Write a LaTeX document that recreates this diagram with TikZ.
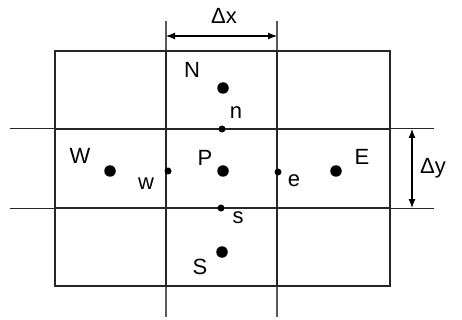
\documentclass[tikz,border=0pt]{standalone}
\usepackage{fontspec}
\setmainfont{Liberation Sans}
\usetikzlibrary{arrows.meta}
\begin{document}
\begin{tikzpicture}[x=1pt,y=-1pt,
  thinline/.style={line width=1pt, black!85},
  gridline/.style={line width=1.8pt, black!85},
  bigdot/.style={circle, fill=black, inner sep=0pt, minimum size=11.5pt},
  smalldot/.style={circle, fill=black, inner sep=0pt, minimum size=7pt},
  lbl/.style={font=\fontsize{22}{26}\selectfont, inner sep=0pt},
  dimarrow/.style={line width=1.1pt, {Latex[length=9pt,width=7pt]}-{Latex[length=9pt,width=7pt]}}]
\useasboundingbox (0,0) rectangle (462,320);
% long extension lines
\draw[thinline] (10,129) -- (434,129);
\draw[thinline] (10,208) -- (434,208);
\draw[gridline, black!65] (166,21) -- (166,317);
\draw[gridline, black!65] (277,21) -- (277,317);
% inner grid lines
\draw[gridline] (55,129) -- (390,129);
\draw[gridline] (55,208) -- (390,208);
\draw[gridline] (166,51) -- (166,286);
\draw[gridline] (277,51) -- (277,286);
% outer rectangle
\draw[gridline] (55,51) rectangle (390,286);
% dimension arrows
\coordinate (dxl) at (166,36); \coordinate (dxr) at (277,36);
\draw[dimarrow] (dxl) -- (dxr);
\node[lbl] (dx) at (224,16) {Δx};
\coordinate (dyt) at (412,129); \coordinate (dyb) at (412,208);
\draw[dimarrow] (dyt) -- (dyb);
\node[lbl, anchor=west] (dy) at (420,168) {Δy};
% dots
\node[bigdot] (N) at (223,88) {};
\node[bigdot] (P) at (223,171) {};
\node[bigdot] (W) at (110,171) {};
\node[bigdot] (E) at (336,171) {};
\node[bigdot] (S) at (222,252) {};
\node[smalldot] (n) at (222,129) {};
\node[smalldot] (s) at (221,208) {};
\node[smalldot] (w) at (168,171) {};
\node[smalldot] (e) at (278,172) {};
% labels
\node[lbl] (Nl) at (192,70) {N};
\node[lbl] (nl) at (236,113) {n};
\node[lbl] (Wl) at (80,156) {W};
\node[lbl] (Pl) at (205,158) {P};
\node[lbl] (El) at (362,157) {E};
\node[lbl] (wl) at (146,184) {w};
\node[lbl] (el) at (294,181) {e};
\node[lbl] (sl) at (238,218) {s};
\node[lbl] (Sl) at (200,267) {S};
\end{tikzpicture}
\end{document}
